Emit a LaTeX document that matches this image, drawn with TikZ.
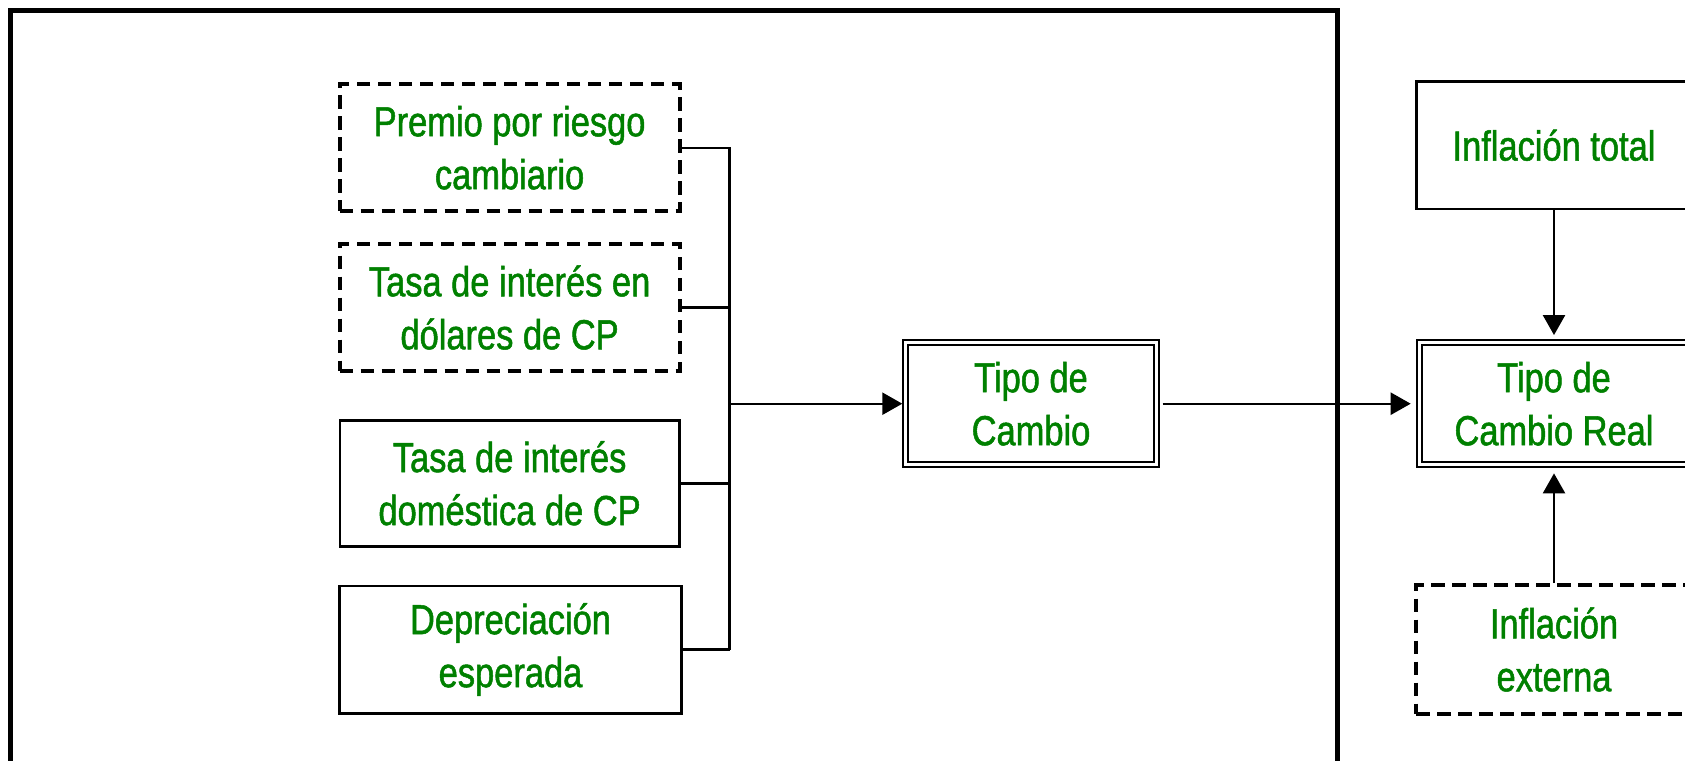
\documentclass[tikz,border=0pt]{standalone}
\usepackage{fontspec}
\setmainfont{Liberation Sans}
\newfontfamily\narrowsans[FakeStretch=0.82,FakeBold=1.2]{Liberation Sans}
\usetikzlibrary{arrows.meta}
\definecolor{txtgreen}{RGB}{0,128,0}
\begin{document}
\begin{tikzpicture}[x=0.5pt,y=-0.5pt,
  box/.style={draw, line width=1.2pt, inner sep=0pt, align=center, text=txtgreen,
    font=\narrowsans\fontsize{21pt}{26.5pt}\selectfont},
  dbox/.style={box, line width=2pt, dash pattern=on 6.7pt off 3.8pt},
  twobox/.style={box, line width=1pt, double, double distance=1.5pt, outer sep=1.75pt},
  conn/.style={line width=1.2pt},
  arr/.style={conn, -{Triangle[length=10pt,width=11pt]}}
]
\useasboundingbox (0,0) rectangle (1685,760);
\clip (0,0) rectangle (1685,760);

% outer frame
\draw[line width=2.5pt] (10,10.8) rectangle (1337.5,820);

% left boxes
\node[dbox, minimum width=170.1pt, minimum height=63.65pt] (A) at (509.6,147.7) {Premio por riesgo\\cambiario};
\node[dbox, minimum width=170.1pt, minimum height=63.5pt] (B) at (509.6,307.5) {Tasa de interés en\\dólares de CP};
\node[box, minimum width=169.9pt, minimum height=63pt] (C) at (509.6,483.3) {Tasa de interés\\doméstica de CP};
\node[box, minimum width=171pt, minimum height=63.8pt] (D) at (510.5,649.5) {Depreciación\\esperada};

% central box
\node[twobox, minimum width=125.2pt, minimum height=61.15pt] (TC) at (1031,403.7) {Tipo de\\Cambio};

% right boxes
\node[twobox, minimum width=134.8pt, minimum height=61.15pt] (TCR) at (1554,403.7) {Tipo de\\Cambio Real};
\node[box, minimum width=137.6pt, minimum height=63.65pt] (IT) at (1554,145.3) {Inflación total};
\node[dbox, minimum width=137.6pt, minimum height=64.5pt] (IE) at (1554,649.5) {Inflación\\externa};

% connectors
\coordinate (V) at (729.5,649.5);
\coordinate (J) at (729.5,403.7);
\draw[conn] (A.east) -| (V);
\draw[conn] (B.east) -- (B.east -| V);
\draw[conn] (C.east) -- (C.east -| V);
\draw[conn] (D.east) -- (V);
\draw[arr] (J) -- (TC.west);
\draw[arr, shorten <=1.5pt, shorten >=2.5pt] (TC.east) -- (TCR.west);
\draw[arr, shorten >=2pt] (IT.south) -- (TCR.north);
\draw[arr, shorten >=2.5pt] (IE.north) -- (TCR.south);
\end{tikzpicture}
\end{document}
